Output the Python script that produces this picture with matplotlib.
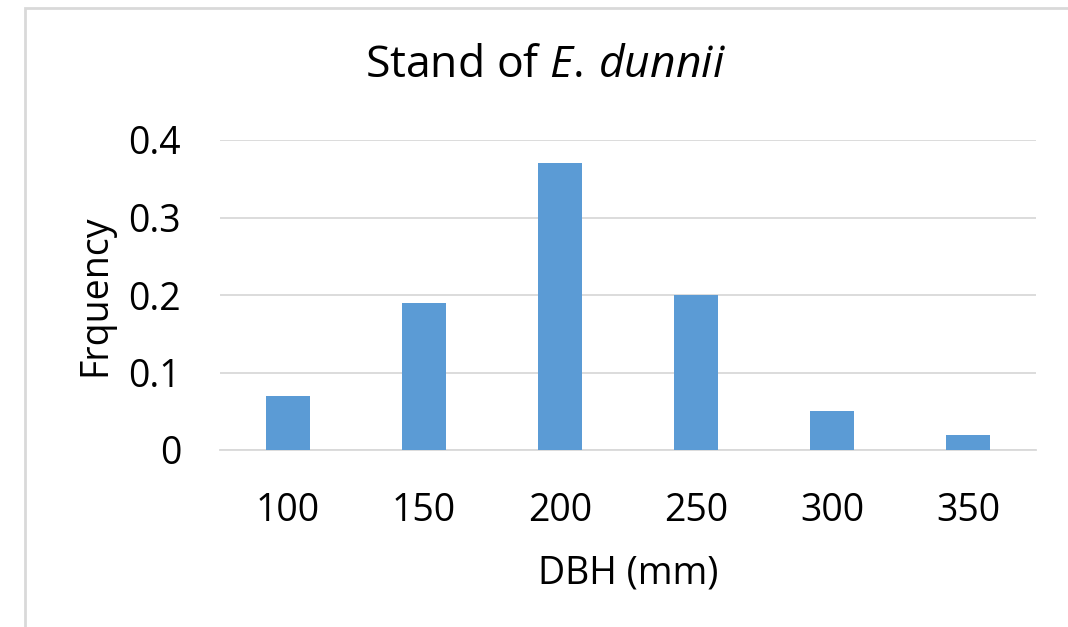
import matplotlib

matplotlib.use("Agg")
import matplotlib.pyplot as plt
from matplotlib.patches import Rectangle

DBH_CLASSES = ["100", "150", "200", "250", "300", "350"]
FREQUENCY = [0.07, 0.19, 0.37, 0.20, 0.05, 0.02]
Y_TICKS = [0, 0.1, 0.2, 0.3, 0.4]
Y_TICK_LABELS = ["0", "0.1", "0.2", "0.3", "0.4"]

BAR_COLOR = "#5B9BD5"
GRID_COLOR = "#D9D9D9"
FONT = "Open Sans"

plt.rcParams["font.family"] = FONT
plt.rcParams["mathtext.fontset"] = "custom"
plt.rcParams["mathtext.rm"] = FONT
plt.rcParams["mathtext.it"] = f"{FONT}:italic"

W, H = 1068, 627
fig = plt.figure(figsize=(W / 100, H / 100), dpi=100)
ax = fig.add_axes([220 / W, 1 - 450 / H, (1036 - 220) / W, (450 - 140) / H])

x = list(range(len(DBH_CLASSES)))
ax.bar(x, FREQUENCY, width=0.32, color=BAR_COLOR, zorder=3)

ax.set_xlim(-0.5, len(DBH_CLASSES) - 0.5)
ax.set_ylim(0, 0.4)
ax.set_yticks(Y_TICKS)
ax.set_yticklabels(Y_TICK_LABELS)
ax.set_xticks(x)
ax.set_xticklabels(DBH_CLASSES)
ax.grid(axis="y", color=GRID_COLOR, linewidth=1.3, zorder=0)
ax.tick_params(axis="both", length=0, labelsize=27)
ax.tick_params(axis="y", pad=28)
ax.tick_params(axis="x", pad=30)
for side in ["top", "right", "left"]:
    ax.spines[side].set_visible(False)
ax.spines["bottom"].set_color(GRID_COLOR)
ax.spines["bottom"].set_linewidth(1.3)

ax.set_xlabel("DBH (mm)", fontsize=27, labelpad=18)
ax.set_ylabel("Frquency", fontsize=27, labelpad=10)
fig.text(545 / W, 1 - 66 / H, r"Stand of $E.\,dunnii$", fontsize=32,
         ha="center", va="center")

fig.patches.append(Rectangle((25 / W, -0.1), 1.2, 1 - 8 / H + 0.1,
                             transform=fig.transFigure, fill=False,
                             edgecolor=GRID_COLOR, linewidth=2))

fig.savefig("out.png", dpi=100)
